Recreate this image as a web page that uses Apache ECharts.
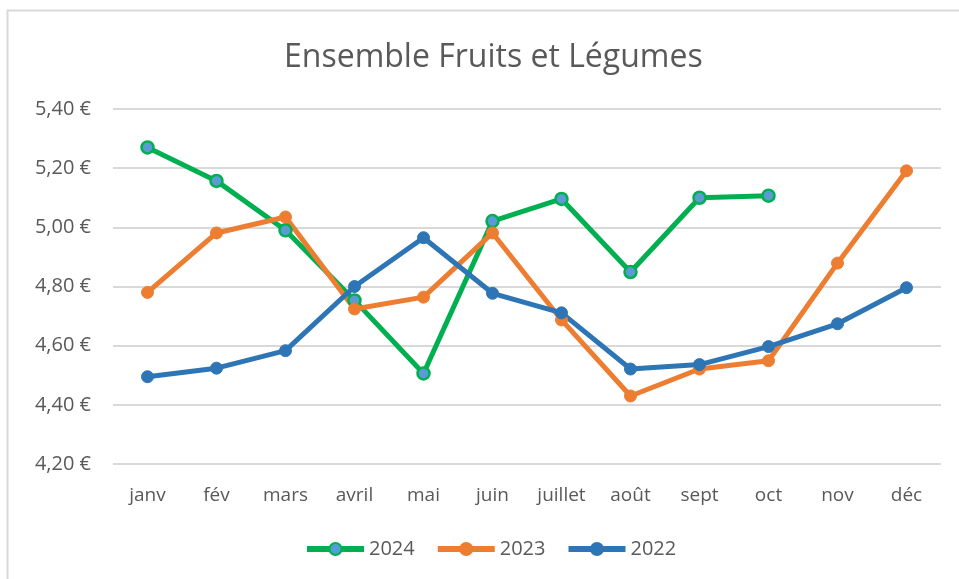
<!DOCTYPE html>
<html>
<head>
<meta charset="utf-8">
<script src="https://cdn.jsdelivr.net/npm/echarts@6/dist/echarts.min.js"></script>
<style>
  html, body { margin: 0; padding: 0; background: #fff; }
  #chart { width: 959px; height: 579px; }
</style>
</head>
<body>
<div id="chart"></div>
<script>
// Data
const months = ['janv', 'fév', 'mars', 'avril', 'mai', 'juin', 'juillet', 'août', 'sept', 'oct', 'nov', 'déc'];
const prix2024 = [5.27, 5.157, 4.99, 4.753, 4.506, 5.021, 5.096, 4.849, 5.10, 5.107, null, null];
const prix2023 = [4.78, 4.981, 5.035, 4.724, 4.764, 4.981, 4.687, 4.43, 4.521, 4.549, 4.879, 5.191];
const prix2022 = [4.495, 4.524, 4.583, 4.80, 4.965, 4.777, 4.711, 4.521, 4.536, 4.597, 4.674, 4.796];

const textColor = '#595959';
const font = 'Open Sans';

const chart = echarts.init(document.getElementById('chart'));

function euro(v) {
    return v.toFixed(2).replace('.', ',') + ' €';
}

const option = {
    animation: false,
    textStyle: { fontFamily: font },
    title: {
        text: 'Ensemble Fruits et Légumes',
        left: 279,
        top: 37,
        textStyle: { color: textColor, fontSize: 32, fontWeight: 'normal', fontFamily: font }
    },
    graphic: [{
        type: 'rect',
        shape: { x: 7.5, y: 10.5, width: 970, height: 600 },
        style: { fill: 'none', stroke: '#d9d9d9', lineWidth: 2 },
        silent: true
    }],
    legend: {
        bottom: 15,
        left: 299,
        itemWidth: 57,
        itemHeight: 15,
        itemGap: 20,
        lineStyle: { width: 6 },
        textStyle: { color: textColor, fontSize: 20, fontFamily: font },
        data: ['2024', '2023', '2022']
    },
    grid: { left: 113, right: 18, top: 109, bottom: 115 },
    xAxis: {
        type: 'category',
        data: months,
        boundaryGap: true,
        axisLine: { show: false },
        axisTick: { show: false },
        axisLabel: { color: textColor, fontSize: 19, margin: 22, fontFamily: font }
    },
    yAxis: {
        type: 'value',
        min: 4.2,
        max: 5.4,
        interval: 0.2,
        axisLine: { show: false },
        axisTick: { show: false },
        splitLine: { lineStyle: { color: '#d9d9d9', width: 2 } },
        axisLabel: { color: textColor, fontSize: 20, margin: 22, formatter: euro, fontFamily: font }
    },
    series: [
        {
            name: '2024',
            type: 'line',
            data: prix2024,
            symbol: 'circle',
            symbolSize: 12,
            lineStyle: { color: '#00B050', width: 5 },
            itemStyle: { color: '#5B9BD5', borderColor: '#00B050', borderWidth: 2.5 }
        },
        {
            name: '2023',
            type: 'line',
            data: prix2023,
            symbol: 'circle',
            symbolSize: 12,
            lineStyle: { color: '#ED7D31', width: 5 },
            itemStyle: { color: '#ED7D31', borderColor: '#ED7D31', borderWidth: 1 }
        },
        {
            name: '2022',
            type: 'line',
            data: prix2022,
            symbol: 'circle',
            symbolSize: 12,
            lineStyle: { color: '#2E75B6', width: 5 },
            itemStyle: { color: '#2E75B6', borderColor: '#2E75B6', borderWidth: 1 }
        }
    ]
};

chart.setOption(option);
</script>
</body>
</html>
